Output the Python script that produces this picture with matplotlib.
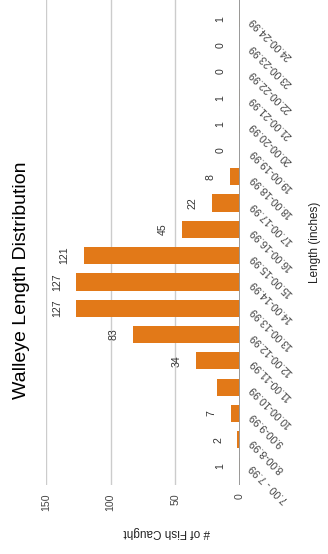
import numpy as np
import matplotlib.pyplot as plt

plt.rcParams['font.family'] = ['Liberation Sans', 'DejaVu Sans']

# walleye catch per 1-inch length bin
length_bins = ['7.00 - 7.99', '8.00-8.99', '9.00-9.99', '10.00-10.99', '11.00-11.99',
               '12.00-12.99', '13.00-13.99', '14.00-14.99', '15.00-15.99', '16.00-16.99',
               '17.00-17.99', '18.00-18.99', '19.00-19.99', '20.00-20.99', '21.00-21.99',
               '22.00-22.99', '23.00-23.99', '24.00-24.99']
fish_counts = [1, 2, 7, 18, 34, 83, 127, 127, 121, 45, 22, 8, 0, 1, 1, 0, 0, 1]
# annotation text per bar (10.00-10.99 bin has none)
count_labels = ['1', '2', '7', '', '34', '83', '127', '127', '121', '45', '22', '8',
                '0', '1', '1', '0', '0', '1']
count_ticks = [0, 50, 100, 150]

bar_color = '#e27918'
y_pos = np.arange(len(length_bins))

fig = plt.figure(figsize=(3.28, 5.54), dpi=100)
ax = fig.add_axes([46/328, 69/554, 194/328, 485/554])

ax.barh(y_pos, fish_counts, height=0.65, color=bar_color, zorder=2)
ax.set_xlim(150, 0)
ax.set_ylim(-0.72, len(length_bins) - 1 + 0.72)

ax.set_xticks(count_ticks)
ax.grid(axis='x', color='#cccccc', linewidth=1, zorder=0)
ax.axvline(0, color='#999999', linewidth=1.4, zorder=3)
for s in ax.spines.values():
    s.set_visible(False)
ax.tick_params(axis='x', length=0, pad=6, labelsize=7.6, labelcolor='#444444', labelrotation=90)

ax.yaxis.tick_right()
ax.set_yticks(y_pos)
ax.set_yticklabels(length_bins, rotation=135, ha='right', va='center', rotation_mode='anchor')
ax.tick_params(axis='y', length=0, pad=8, labelsize=7.6, labelcolor='#444444')

for i, (v, lab) in enumerate(zip(fish_counts, count_labels)):
    if lab:
        ax.annotate(lab, (v, i), xytext=(-19, 0), textcoords='offset pixels',
                    rotation=90, ha='center', va='center', fontsize=7.6, color='#333333')

ax.set_xlabel('# of Fish Caught', rotation=180, fontsize=8.5, color='#222222', va='center')
ax.xaxis.set_label_coords((167 - 46) / 194, (22 - 69) / 485)
ax.yaxis.set_label_position('right')
ax.set_ylabel('Length (inches)', rotation=90, fontsize=8.5, color='#222222', va='center')
ax.yaxis.set_label_coords((315 - 46) / 194, (554 - 242 - 69) / 485)

fig.text(22/328, 1 - 280/554, 'Walleye Length Distribution', rotation=90,
         ha='center', va='center', fontsize=14, color='#000000')

fig.savefig('out.png', dpi=100)
